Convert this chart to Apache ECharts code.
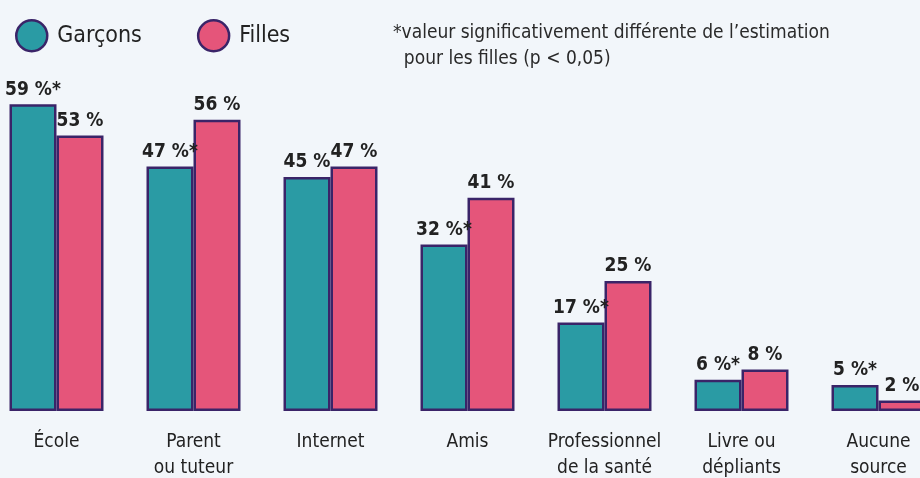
<!DOCTYPE html>
<html>
<head>
<meta charset="utf-8">
<script src="https://cdn.jsdelivr.net/npm/echarts@6/dist/echarts.min.js"></script>
<style>
  html, body { margin: 0; padding: 0; background: #f2f6fa; }
  #chart { width: 920px; height: 478px; }
</style>
</head>
<body>
<div id="chart"></div>
<script>
const categories = ['École', 'Parent\nou tuteur', 'Internet', 'Amis', 'Professionnel\nde la santé', 'Livre ou\ndépliants', 'Aucune\nsource'];
const garcons = [59, 47, 45, 32, 17, 6, 5];
const filles = [53, 56, 47, 41, 25, 8, 2];
// * = différence significative avec les filles
const garconsSig = [true, true, false, true, true, true, true];

const font = '"DejaVu Sans Condensed"';
const border = '#3a2468';

const chart = echarts.init(document.getElementById('chart'));

const labelStyle = {
  show: true,
  position: 'top',
  distance: 5,
  color: '#222',
  fontFamily: font,
  fontWeight: 'bold',
  fontSize: 19
};

chart.setOption({
  backgroundColor: '#f2f6fa',
  animation: false,
  legend: {
    left: 10,
    top: 14,
    icon: 'circle',
    itemWidth: 31,
    itemHeight: 31,
    itemGap: 55,
    textStyle: { fontFamily: font, fontSize: 23, color: '#222', padding: [0, 0, 0, 5] },
    itemStyle: { borderColor: border, borderWidth: 2.5 },
    data: ['Garçons', 'Filles']
  },
  graphic: [{
    type: 'text',
    left: 393,
    top: 20,
    style: {
      text: '*valeur significativement différente de l’estimation\n  pour les filles (p < 0,05)',
      fontFamily: font,
      fontSize: 19,
      lineHeight: 26,
      fill: '#2a2a2a'
    }
  }],
  grid: { left: -12, right: -27, top: 99, bottom: 67, containLabel: false, outerBoundsMode: 'none' },
  xAxis: {
    type: 'category',
    data: categories,
    axisLine: { show: false },
    axisTick: { show: false },
    axisLabel: {
      margin: 18,
      color: '#222',
      fontFamily: font,
      fontSize: 19,
      lineHeight: 26,
      interval: 0
    }
  },
  yAxis: {
    type: 'value',
    min: 0,
    max: 60,
    show: false,
    splitLine: { show: false }
  },
  series: [{
    name: 'Garçons',
    type: 'bar',
    data: garcons,
    barWidth: 47,
    barGap: '0%',
    itemStyle: { color: '#2a9ba4', borderColor: border, borderWidth: 2.5 },
    label: Object.assign({}, labelStyle, {
      formatter: p => p.value + ' %' + (garconsSig[p.dataIndex] ? '*' : '')
    })
  }, {
    name: 'Filles',
    type: 'bar',
    data: filles,
    barWidth: 47,
    itemStyle: { color: '#e5557a', borderColor: border, borderWidth: 2.5 },
    label: Object.assign({}, labelStyle, {
      formatter: p => p.value + ' %'
    })
  }]
});
</script>
</body>
</html>
